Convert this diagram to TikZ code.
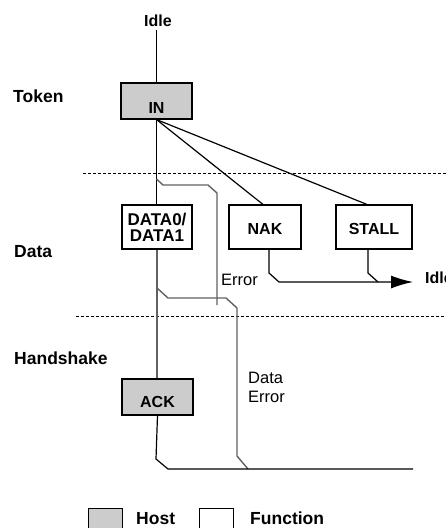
\documentclass[tikz,border=0pt]{standalone}
\usepackage{fontspec}
\setmainfont{Liberation Sans}
\usetikzlibrary{arrows.meta}
\begin{document}
\begin{tikzpicture}[x=1pt,y=-1pt,
  font=\fontsize{16}{16}\selectfont\bfseries,
  box/.style={draw, line width=1.1pt, minimum width=71pt, minimum height=36pt, inner sep=0pt},
  host/.style={box, fill=black!20},
  lbl/.style={inner sep=0pt, anchor=base west, font=\fontsize{17.5}{17.5}\selectfont\bfseries},
  plain/.style={inner sep=0pt, anchor=base west, font=\fontsize{16.5}{19}\selectfont},
  conn/.style={line width=1.2pt, draw=black},
  gconn/.style={line width=1.4pt, draw=black!62},
  sep/.style={line width=0.9pt, dash pattern=on 2.5pt off 2.5pt}]
\useasboundingbox (0,0) rectangle (446,528);

% section labels
\node[lbl] (token) at (13,102) {Token};
\node[lbl] (datalbl) at (14,257) {Data};
\node[lbl] (hs) at (14,364) {Handshake};

% separators
\coordinate (s1a) at (83,173); \coordinate (s1b) at (446,173);
\coordinate (s2a) at (76,316); \coordinate (s2b) at (446,316);
\draw[sep] (s1a) -- (s1b);
\draw[sep] (s2a) -- (s2b);

% boxes
\node[host, text height=24pt, text depth=0pt] (in) at (156.5,101) {IN};
\node[box, minimum width=70pt, minimum height=44pt, align=center, font=\fontsize{17}{16}\selectfont\bfseries] (data) at (157,227) {DATA0/\\DATA1};
\node[box, minimum width=72pt, minimum height=44pt, text height=14pt, text depth=0pt] (nak) at (265,227) {NAK};
\node[box, minimum width=76pt, minimum height=44pt, text height=14pt, text depth=0pt] (stall) at (374,227) {STALL};
\node[host, text height=20pt, text depth=0pt] (ack) at (157.5,397) {ACK};

% idle labels
\node[inner sep=0pt, anchor=base] (idle) at (158,26) {Idle};
\node[inner sep=0pt, anchor=base west] (idle2) at (425,283) {Idle};

% other labels
\node[plain] (err) at (221,285) {Error};
\node[plain, align=left] (derr) at (248,402) {Data\\Error};

% connectors from IN
\draw[conn] (idle.south -| in.north) ++(0,4) -- (in.north);
\draw[conn] (in.south) -- (in.south |- data.north);
\draw[conn] (in.south) -- ([xshift=-2pt]nak.north);
\draw[conn] (in.south) -- ([xshift=-7pt]stall.north);

% error branch
\coordinate (b1) at (156.5,179);
\coordinate (e1) at (217,305);
\draw[gconn] (b1) -- (163,185) -- (208,185) -- (217,193) -- (e1);

% NAK / STALL to idle
\coordinate (tip) at (413,282);
\draw[conn, -{Latex[length=22pt,width=13pt]}] ([xshift=4pt]nak.south) -- (269,273) -- (279,282) -- (tip);
\draw[conn] ([xshift=-6pt]stall.south) -- (368,273) -- (378,282);

% data to ACK
\draw[gconn] (data.south) -- (data.south |- ack.north);
\coordinate (b2) at (157,288);
\draw[gconn] (b2) -- (168,298) -- (226,298) -- (237,308) -- (237,456) -- (248,469);

% ACK bottom
\coordinate (end) at (413,469);
\draw[conn] (ack.south) -- (156,459) -- (168,469) -- (end);

% legend
\node[draw, line width=1.1pt, fill=black!20, minimum width=34pt, minimum height=26pt, inner sep=0pt, anchor=north west] (lhost) at (88,508) {};
\node[lbl] (thost) at (136,524.5) {Host};
\node[draw, line width=1.1pt, fill=white, minimum width=34pt, minimum height=26pt, inner sep=0pt, anchor=north west] (lfun) at (199,508) {};
\node[lbl] (tfun) at (250,524.5) {Function};
\end{tikzpicture}
\end{document}
